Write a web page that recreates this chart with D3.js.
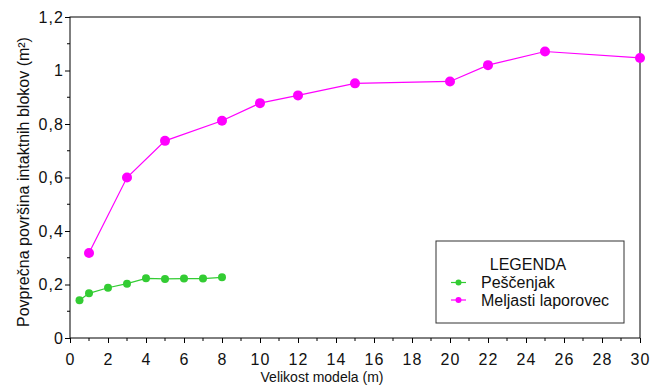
<!DOCTYPE html>
<html>
<head>
<meta charset="utf-8">
<script src="https://cdn.jsdelivr.net/npm/d3@7"></script>
<style>
  html, body { margin: 0; padding: 0; background: #fff; }
  svg { display: block; font-family: "Liberation Sans", Arial, sans-serif; }
</style>
</head>
<body>
<svg id="chart" width="650" height="385"></svg>
<script>
// Model size (m) and mean intact block area (m²) for two rock types
const sandstoneX = [0.5, 1, 2, 3, 4, 5, 6, 7, 8];
const sandstoneY = [0.141, 0.167, 0.188, 0.203, 0.223, 0.221, 0.222, 0.222, 0.227];
const marlX = [1, 3, 5, 8, 10, 12, 15, 20, 22, 25, 30];
const marlY = [0.318, 0.600, 0.737, 0.812, 0.878, 0.907, 0.952, 0.959, 1.020, 1.071, 1.047];

const xTicks = d3.range(0, 31, 2);
const yTicks = [0, 0.2, 0.4, 0.6, 0.8, 1, 1.2];
const seriesNames = ["Peščenjak", "Meljasti laporovec"];
const seriesColors = ["#33cc33", "#ff00ff"];

const svg = d3.select("#chart");
const m = { left: 70, right: 10, top: 17, bottom: 47 };
const W = 650, H = 385;

const x = d3.scaleLinear().domain([0, 30]).range([m.left, W - m.right]);
const y = d3.scaleLinear().domain([0, 1.2]).range([H - m.bottom, m.top]);

const fmt = d => d3.format(".1~f")(d).replace(".", ",");

// frame
svg.append("rect")
  .attr("x", x(0)).attr("y", y(1.2))
  .attr("width", x(30) - x(0)).attr("height", y(0) - y(1.2))
  .attr("fill", "none").attr("stroke", "#000").attr("stroke-width", 1);

// minor ticks
const xMinor = d3.range(0, 31, 1).filter(d => d % 2 !== 0);
const yMinor = d3.range(0.1, 1.2, 0.2);
svg.append("g").selectAll("line").data(xMinor).join("line")
  .attr("x1", d => x(d)).attr("x2", d => x(d))
  .attr("y1", y(0)).attr("y2", y(0) + 3)
  .attr("stroke", "#000");
svg.append("g").selectAll("line").data(yMinor).join("line")
  .attr("y1", d => y(d)).attr("y2", d => y(d))
  .attr("x1", x(0)).attr("x2", x(0) - 3)
  .attr("stroke", "#000");

// axes
const xAxis = svg.append("g")
  .attr("transform", `translate(0,${y(0)})`)
  .call(d3.axisBottom(x).tickValues(xTicks).tickSize(5).tickPadding(11).tickFormat(d => d));
const yAxis = svg.append("g")
  .attr("transform", `translate(${x(0)},0)`)
  .call(d3.axisLeft(y).tickValues(yTicks).tickSize(5).tickPadding(1).tickFormat(fmt));
[xAxis, yAxis].forEach(g => {
  g.select(".domain").remove();
  g.selectAll("text").attr("font-size", 16).attr("fill", "#111")
    .attr("letter-spacing", 1.1)
    .attr("font-family", "'Liberation Sans', Arial, sans-serif");
  g.selectAll("line").attr("stroke", "#000");
});
xAxis.selectAll("text").attr("dy", null).attr("y", 27);

// axis titles
svg.append("text")
  .attr("x", 322).attr("y", 382)
  .attr("text-anchor", "middle").attr("font-size", 14).attr("fill", "#111")
  .text("Velikost modela (m)");
svg.append("text")
  .attr("transform", `translate(29,182) rotate(-90)`)
  .attr("text-anchor", "middle").attr("font-size", 16).attr("fill", "#111")
  .text("Povprečna površina intaktnih blokov (m²)");

// series
const series = [
  { xs: sandstoneX, ys: sandstoneY, r: 4 },
  { xs: marlX, ys: marlY, r: 5 }
];
const line = d3.line().x(d => x(d[0])).y(d => y(d[1]));
series.forEach((s, i) => {
  const pts = s.xs.map((v, j) => [v, s.ys[j]]);
  svg.append("path").datum(pts)
    .attr("d", line).attr("fill", "none")
    .attr("stroke", seriesColors[i]).attr("stroke-width", 1.2);
  svg.append("g").selectAll("circle").data(pts).join("circle")
    .attr("cx", d => x(d[0])).attr("cy", d => y(d[1]))
    .attr("r", s.r).attr("fill", seriesColors[i]);
});

// legend
const lg = svg.append("g");
lg.append("rect")
  .attr("x", 436).attr("y", 241).attr("width", 188).attr("height", 82)
  .attr("fill", "#fff").attr("stroke", "#333").attr("stroke-width", 1);
lg.append("text").attr("x", 528).attr("y", 270).attr("text-anchor", "middle")
  .attr("font-size", 16).attr("fill", "#111").text("LEGENDA");
seriesNames.forEach((name, i) => {
  const cy = 282.5 + i * 17.5;
  lg.append("line").attr("x1", 451).attr("x2", 466).attr("y1", cy).attr("y2", cy)
    .attr("stroke", seriesColors[i]).attr("stroke-width", 1.2);
  lg.append("circle").attr("cx", 458.5).attr("cy", cy).attr("r", 3)
    .attr("fill", seriesColors[i]);
  lg.append("text").attr("x", 481).attr("y", cy + 5.5)
    .attr("font-size", 16).attr("fill", "#111").text(name);
});
</script>
</body>
</html>
